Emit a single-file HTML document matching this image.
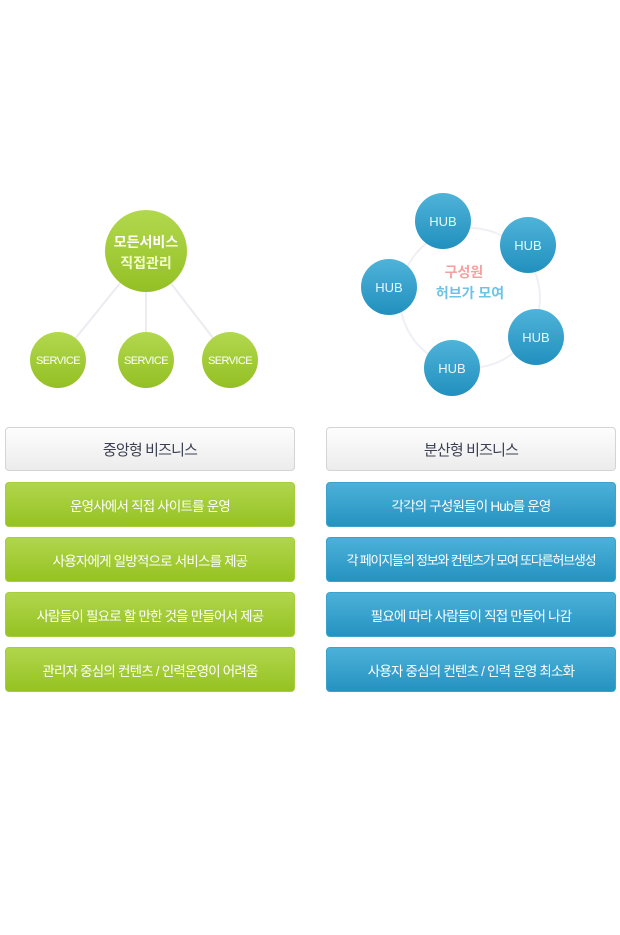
<!DOCTYPE html>
<html><head><meta charset="utf-8"><style>
body{margin:0;width:620px;height:935px;background:#fff;position:relative;font-family:"Liberation Sans","Noto Sans CJK KR",sans-serif;overflow:hidden}
.b{position:absolute;width:288px;height:43px;border-radius:4px;display:flex;align-items:center;justify-content:center;font-size:13.5px;letter-spacing:-0.8px;white-space:nowrap}
.h{background:linear-gradient(#fdfdfd,#ececec);border:1px solid #d4d4d4;color:#3a3f52;font-size:15px;height:42px}
.g{background:linear-gradient(#b0d64c,#96c222);color:#fff;border:1px solid #a6ce3c}
.u{background:linear-gradient(#4cb1d9,#2592c0);color:#fff;border:1px solid #3aa2cc}
</style></head><body>
<svg width="620" height="420" style="position:absolute;left:0;top:0">
<defs>
<linearGradient id="gg" x1="0" y1="0" x2="0" y2="1"><stop offset="0" stop-color="#b2d84e"/><stop offset="1" stop-color="#94c024"/></linearGradient>
<linearGradient id="bg" x1="0" y1="0" x2="0" y2="1"><stop offset="0" stop-color="#4fb3d9"/><stop offset="1" stop-color="#2190be"/></linearGradient>
</defs>
<g stroke="#ebecf2" stroke-width="2">
<line x1="146" y1="251" x2="58" y2="360"/><line x1="146" y1="251" x2="146" y2="360"/><line x1="146" y1="251" x2="230" y2="360"/>
</g>
<circle cx="470" cy="298" r="70" fill="none" stroke="#eef0f5" stroke-width="2"/>
<circle cx="146" cy="251" r="41" fill="url(#gg)"/>
<circle cx="58" cy="360" r="28" fill="url(#gg)"/>
<circle cx="146" cy="360" r="28" fill="url(#gg)"/>
<circle cx="230" cy="360" r="28" fill="url(#gg)"/>
<g font-family="Liberation Sans,Noto Sans CJK KR,sans-serif" text-anchor="middle" fill="#fff">
<text x="146" y="247" font-size="14" font-weight="bold">모든서비스</text>
<text x="146" y="268" font-size="14" font-weight="bold" fill="#f4ffd0">직접관리</text>
<text x="58" y="364" font-size="11" letter-spacing="-0.6">SERVICE</text>
<text x="146" y="364" font-size="11" letter-spacing="-0.6">SERVICE</text>
<text x="230" y="364" font-size="11" letter-spacing="-0.6">SERVICE</text>
</g>
<g fill="url(#bg)">
<circle cx="443" cy="221" r="28"/><circle cx="528" cy="245" r="28"/><circle cx="389" cy="287" r="28"/><circle cx="536" cy="337" r="28"/><circle cx="452" cy="368" r="28"/>
</g>
<g font-family="Liberation Sans,sans-serif" text-anchor="middle" fill="#e8f6fc" font-size="13">
<text x="443" y="226">HUB</text><text x="528" y="250">HUB</text><text x="389" y="292">HUB</text><text x="536" y="342">HUB</text><text x="452" y="373">HUB</text>
</g>
<g font-family="Liberation Sans,Noto Sans CJK KR,sans-serif" text-anchor="middle" font-size="14" font-weight="bold">
<text x="464" y="277" fill="#f7a0a0">구성원</text>
<text x="470" y="298" fill="#6cc3e6">허브가 모여</text>
</g>
</svg>
<div class="b h" style="left:5px;top:427px">중앙형 비즈니스</div>
<div class="b g" style="left:5px;top:482px">운영사에서 직접 사이트를 운영</div>
<div class="b g" style="left:5px;top:537px">사용자에게 일방적으로 서비스를 제공</div>
<div class="b g" style="left:5px;top:592px">사람들이 필요로 할 만한 것을 만들어서 제공</div>
<div class="b g" style="left:5px;top:647px">관리자 중심의 컨텐츠 / 인력운영이 어려움</div>
<div class="b h" style="left:326px;top:427px">분산형 비즈니스</div>
<div class="b u" style="left:326px;top:482px">각각의 구성원들이 Hub를 운영</div>
<div class="b u" style="left:326px;top:537px;letter-spacing:-1.2px;font-size:13px">각 페이지들의 정보와 컨텐츠가 모여 또다른허브생성</div>
<div class="b u" style="left:326px;top:592px">필요에 따라 사람들이 직접 만들어 나감</div>
<div class="b u" style="left:326px;top:647px">사용자 중심의 컨텐츠 / 인력 운영 최소화</div>
</body></html>
